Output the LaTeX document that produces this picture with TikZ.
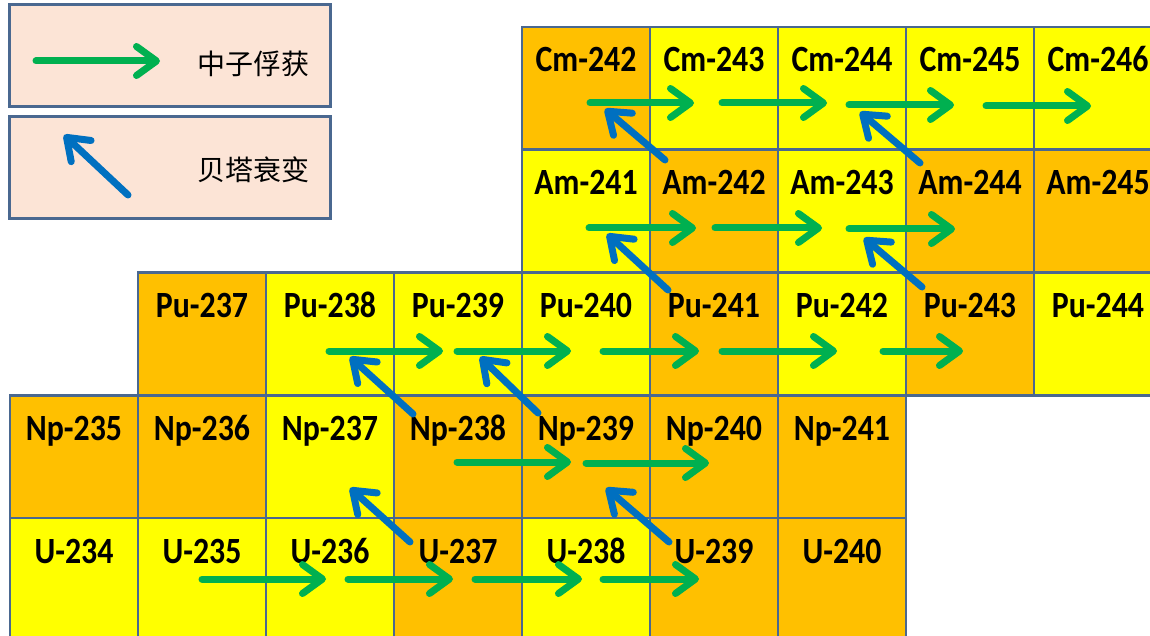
\documentclass[tikz,border=0pt]{standalone}
\usepackage{fontspec}
\usetikzlibrary{arrows.meta}
\newfontfamily\cellfont[FakeStretch=0.86]{Carlito}
\newfontfamily\cjk{Noto Sans CJK SC}
\definecolor{yel}{HTML}{FFFF00}
\definecolor{org}{HTML}{FFC000}
\definecolor{edge}{HTML}{4A6890}
\definecolor{grn}{HTML}{00B050}
\definecolor{blu}{HTML}{0070C0}
\definecolor{peach}{HTML}{FCE4D6}
\tikzset{
  cell/.style={draw=edge, line width=2.5pt, minimum width=128pt, minimum height=122.75pt, inner sep=0pt, outer sep=0pt},
  lbl/.style={anchor=base, inner sep=0pt, font=\cellfont\bfseries\fontsize{37}{40}\selectfont},
  legbox/.style={draw=edge, line width=3pt, fill=peach},
  legtxt/.style={inner sep=0pt, font=\cjk\fontsize{28}{30}\selectfont},
  ncap/.style={draw=grn, line width=7pt, line cap=round,
    -{Straight Barb[length=20pt, width=29pt, line cap=round, line join=round]}},
  beta/.style={draw=blu, line width=7pt, line cap=round,
    -{Straight Barb[length=20pt, width=29pt, line cap=round, line join=round]}}
}
\begin{document}
\begin{tikzpicture}[x=1pt, y=-1pt]
\useasboundingbox (0,0) rectangle (1150,636);
\clip (0,0) rectangle (1150,636);
% legend
\draw[legbox] (9,5) rectangle (330,107);
\draw[legbox] (9,117) rectangle (330,219);
\node[legtxt] (capt) at (253,63.5) {中子俘获};
\node[legtxt] (betat) at (253,170) {贝塔衰变};
\coordinate (lg1) at (36,61);
\coordinate (lg2) at (160,61);
\coordinate (lb1) at (128,195);
\coordinate (lb2) at (64,135);
\draw[ncap] (lg1) -- (lg2);
\draw[beta] (lb1) -- (lb2);
% cells
\foreach \c/\r/\e/\m/\f in {
  4/0/Cm/242/org, 5/0/Cm/243/yel, 6/0/Cm/244/yel, 7/0/Cm/245/yel, 8/0/Cm/246/yel,
  4/1/Am/241/yel, 5/1/Am/242/org, 6/1/Am/243/yel, 7/1/Am/244/org, 8/1/Am/245/org,
  1/2/Pu/237/org, 2/2/Pu/238/yel, 3/2/Pu/239/yel, 4/2/Pu/240/yel, 5/2/Pu/241/org, 6/2/Pu/242/yel, 7/2/Pu/243/org, 8/2/Pu/244/yel,
  0/3/Np/235/org, 1/3/Np/236/org, 2/3/Np/237/yel, 3/3/Np/238/org, 4/3/Np/239/org, 5/3/Np/240/org, 6/3/Np/241/org,
  0/4/U/234/yel, 1/4/U/235/yel, 2/4/U/236/yel, 3/4/U/237/org, 4/4/U/238/yel, 5/4/U/239/org, 6/4/U/240/org} {
  \node[cell, fill=\f] (\e\m) at ({74+128*\c}, {27+122.75*\r+61.375}) {};
  \node[lbl] (t\e\m) at ([yshift=-45pt]\e\m.north) {\e-\m};
}
% beta decays
\foreach \ax/\ay/\bx/\by [count=\i] in {
  665/160/605/109, 920/163/860/112, 668/290/607/234, 922/287/864/238,
  413/414/350/357, 538/413/480/357, 410/542/350/488, 669/542/606/488} {
  \coordinate (bs\i) at (\ax,\ay);
  \coordinate (be\i) at (\bx,\by);
  \draw[beta] (bs\i) -- (be\i);
}
% neutron captures
\foreach \ax/\bx/\y [count=\i] in {
  590/694/103, 722/827/103, 849/954/105, 986/1091/106,
  589/696/228, 715/822/228, 849/955/229,
  329/443/351, 457/571/351, 603/699/351, 722/837/351, 883/963/351,
  457/571/462, 586/709/463,
  202/326/579, 348/453/579, 475/582/579, 603/699/579} {
  \coordinate (gs\i) at (\ax,\y);
  \coordinate (ge\i) at (\bx,\y);
  \draw[ncap] (gs\i) -- (ge\i);
}
\end{tikzpicture}
\end{document}
